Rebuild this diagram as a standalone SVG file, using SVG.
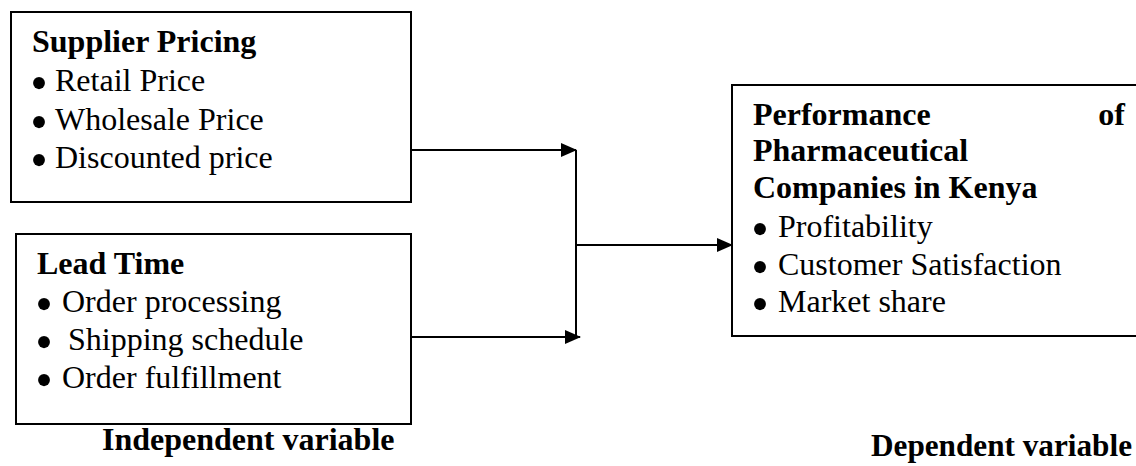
<svg xmlns="http://www.w3.org/2000/svg" width="1136" height="466" viewBox="0 0 1136 466">
<style>
.box{fill:#fff;stroke:#000;stroke-width:2}
.t{font-family:"Liberation Serif","Times New Roman",serif;font-size:32px;fill:#000}
.b{font-weight:bold}
.bl{font-size:50px;text-anchor:middle}
.c{stroke:#000;stroke-width:2;fill:none}
</style>
<defs>
<marker id="ah" markerWidth="16" markerHeight="14" refX="15" refY="7" orient="auto" markerUnits="userSpaceOnUse">
<path d="M0,0 L16,7 L0,14 Z" fill="#000"/>
</marker>
</defs>
<rect width="1136" height="466" fill="#fff"/>
<g id="supplier-pricing">
<rect class="box" x="11" y="12" width="400" height="190"/>
<text class="t b" x="32" y="52">Supplier Pricing</text>
<text class="t"><tspan class="bl" x="39" y="100">•</tspan><tspan x="55" y="91">Retail Price</tspan></text>
<text class="t"><tspan class="bl" x="39" y="139">•</tspan><tspan x="55" y="130">Wholesale Price</tspan></text>
<text class="t"><tspan class="bl" x="39" y="177">•</tspan><tspan x="55" y="168">Discounted price</tspan></text>
</g>
<g id="lead-time">
<rect class="box" x="16" y="234" width="395" height="190"/>
<text class="t b" x="37" y="274">Lead Time</text>
<text class="t"><tspan class="bl" x="44" y="321">•</tspan><tspan x="62" y="312">Order processing</tspan></text>
<text class="t"><tspan class="bl" x="44" y="359">•</tspan><tspan x="68" y="350">Shipping schedule</tspan></text>
<text class="t"><tspan class="bl" x="44" y="397">•</tspan><tspan x="62" y="388">Order fulfillment</tspan></text>
</g>
<g id="performance">
<rect class="box" x="732" y="85" width="410" height="251"/>
<text class="t b" x="753" y="125">Performance</text>
<text class="t b" x="1125" y="125" text-anchor="end">of</text>
<text class="t b" x="753" y="161">Pharmaceutical</text>
<text class="t b" x="753" y="198">Companies in Kenya</text>
<text class="t"><tspan class="bl" x="760" y="246">•</tspan><tspan x="778" y="237">Profitability</tspan></text>
<text class="t"><tspan class="bl" x="760" y="284">•</tspan><tspan x="778" y="275">Customer Satisfaction</tspan></text>
<text class="t"><tspan class="bl" x="760" y="321">•</tspan><tspan x="778" y="312">Market share</tspan></text>
</g>
<g id="connectors">
<line class="c" x1="411" y1="150" x2="576" y2="150" marker-end="url(#ah)"/>
<line class="c" x1="411" y1="337" x2="580" y2="337" marker-end="url(#ah)"/>
<line class="c" x1="576" y1="150" x2="576" y2="337"/>
<line class="c" x1="576" y1="245" x2="732" y2="245" marker-end="url(#ah)"/>
</g>
<g id="labels">
<text class="t b" x="102" y="450">Independent variable</text>
<text class="t b" x="871" y="456" textLength="261" lengthAdjust="spacingAndGlyphs">Dependent variable</text>
</g>
</svg>
